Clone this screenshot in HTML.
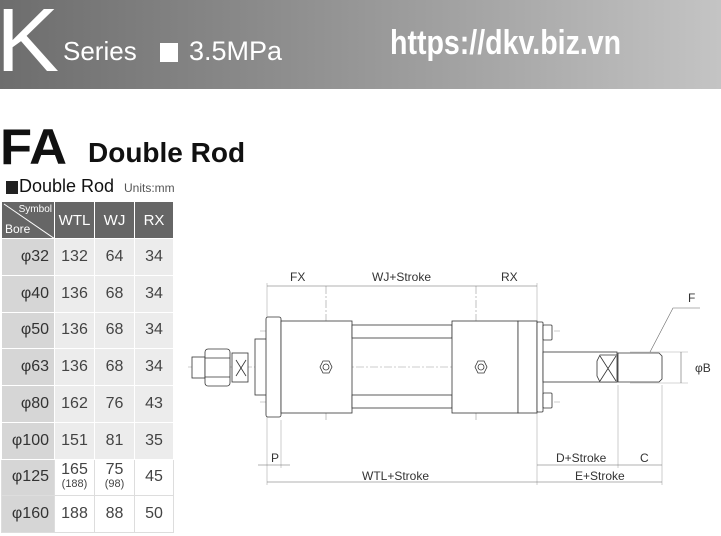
<!DOCTYPE html>
<html><head><meta charset="utf-8"><style>
body{margin:0;width:721px;height:536px;background:#fff;overflow:hidden;position:relative;font-family:"Liberation Sans",sans-serif}
.ban{position:absolute;left:0;top:0;width:721px;height:89px;background:linear-gradient(90deg,#6d6d6d 0%,#8a8a8a 35%,#a8a8a8 70%,#c4c4c4 100%)}
.t{position:absolute;white-space:nowrap}
table{position:absolute;left:1px;top:201px;border-collapse:collapse;font-size:16px;color:#444;table-layout:fixed;width:172px}
td{border:1px solid #fff;text-align:center;height:36.75px;padding:0;background:#ececec;box-sizing:border-box}
td.b{background:#d6d6d6;text-align:right;padding-right:5px;color:#333}
tr.w td{background:#fff;border-color:#ddd}
tr.w td.b{background:#d6d6d6}
th{background:#666;color:#fff;font-weight:normal;font-size:15px;height:37px;border:1px solid #fff;padding:0;box-sizing:border-box}
</style></head><body>
<div class="ban"></div>
<div class="t" style="left:-4px;top:-10px;font-size:90px;color:#fff;transform:scaleX(1.05);transform-origin:left">K</div>
<div class="t" style="left:63px;top:36px;font-size:26px;color:#fff">Series</div>
<div class="t" style="left:160px;top:43px;width:18px;height:19px;background:#fff"></div>
<div class="t" style="left:189px;top:36px;font-size:27px;color:#fff">3.5MPa</div>
<div class="t" style="left:390px;top:24px;font-size:34px;font-weight:bold;color:#fff;transform:scaleX(0.84);transform-origin:left">https://dkv.biz.vn</div>
<div class="t" style="left:0;top:118px;font-size:50px;font-weight:bold;color:#111;transform:scaleX(1.05);transform-origin:left">FA</div>
<div class="t" style="left:88px;top:137px;font-size:28px;font-weight:bold;color:#111">Double Rod</div>
<div class="t" style="left:6px;top:181px;width:12px;height:13px;background:#222"></div>
<div class="t" style="left:19px;top:176px;font-size:18px;color:#111">Double Rod</div>
<div class="t" style="left:124px;top:181px;font-size:12px;color:#555">Units:mm</div>
<table>
<colgroup><col style="width:53px"><col style="width:40px"><col style="width:40px"><col style="width:39px"></colgroup>
<tr><th style="position:relative;font-size:12px"><svg width="53" height="37" style="position:absolute;left:0;top:0"><line x1="2" y1="2" x2="53" y2="37" stroke="#fff"/></svg><span style="position:absolute;right:2px;top:2px;font-size:10px">Symbol</span><span style="position:absolute;left:3px;bottom:2px;font-size:12px">Bore</span></th><th>WTL</th><th>WJ</th><th>RX</th></tr>
<tr><td class="b">φ32</td><td>132</td><td>64</td><td>34</td></tr>
<tr><td class="b">φ40</td><td>136</td><td>68</td><td>34</td></tr>
<tr><td class="b">φ50</td><td>136</td><td>68</td><td>34</td></tr>
<tr><td class="b">φ63</td><td>136</td><td>68</td><td>34</td></tr>
<tr><td class="b">φ80</td><td>162</td><td>76</td><td>43</td></tr>
<tr><td class="b">φ100</td><td>151</td><td>81</td><td>35</td></tr>
<tr class="w"><td class="b">φ125</td><td style="line-height:13px">165<br><span style="font-size:11px">(188)</span></td><td style="line-height:13px">75<br><span style="font-size:11px">(98)</span></td><td>45</td></tr>
<tr class="w"><td class="b">φ160</td><td>188</td><td>88</td><td>50</td></tr>
</table>
<svg width="721" height="536" style="position:absolute;left:0;top:0" font-family="Liberation Sans" font-size="12" fill="none" stroke="#333" stroke-width="0.8">
<g stroke="#999" stroke-width="0.6" stroke-dasharray="8,2,2,2">
<line x1="188" y1="367" x2="640" y2="367"/><line x1="260" y1="331" x2="560" y2="331"/><line x1="260" y1="402" x2="560" y2="402"/>
<line x1="326" y1="286" x2="326" y2="420"/><line x1="476" y1="286" x2="476" y2="420"/>
</g>
<g stroke="#aaa" stroke-width="0.6">
<line x1="267" y1="283" x2="267" y2="485"/><line x1="537" y1="283" x2="537" y2="485"/><line x1="281" y1="420" x2="281" y2="468"/>
<line x1="618" y1="385" x2="618" y2="468"/><line x1="662" y1="385" x2="662" y2="485"/>
<line x1="630" y1="352" x2="688" y2="352"/><line x1="630" y1="383" x2="688" y2="383"/>
</g>
<g fill="#fff">
<rect x="192" y="357" width="13" height="21"/><rect x="205" y="349" width="25" height="37" rx="3"/>
<line x1="205" y1="358" x2="230" y2="358"/><line x1="205" y1="377" x2="230" y2="377"/>
<rect x="232" y="353" width="16" height="29"/><line x1="236" y1="360" x2="246" y2="376"/><line x1="246" y1="360" x2="236" y2="376"/>
<rect x="255" y="339" width="12" height="56"/>
<rect x="266" y="317" width="15" height="100" rx="2"/>
<rect x="281" y="321" width="71" height="92"/>
<rect x="352" y="325" width="100" height="13"/><rect x="352" y="395" width="100" height="13"/>
<rect x="452" y="321" width="66" height="92"/><rect x="518" y="321" width="19" height="92"/>
<rect x="537" y="322" width="6" height="90" rx="1"/>
<rect x="543" y="325" width="9" height="15" rx="1"/><rect x="543" y="393" width="9" height="15" rx="1"/>
<rect x="543" y="352" width="74" height="30"/>
<path d="M600 355 H617 V382 H600 L597 376 V361 Z"/><line x1="600" y1="356" x2="616" y2="381"/><line x1="616" y1="356" x2="600" y2="381"/>
<path d="M618 353 H659 L662 356 V379 L659 382 H618 Z"/>
<path d="M320 367 l3-6 h6 l3 6 l-3 6 h-6z"/><circle cx="326" cy="367" r="3"/>
<path d="M475 367 l3-6 h6 l3 6 l-3 6 h-6z"/><circle cx="481" cy="367" r="3"/>
</g>
<g stroke="#666" stroke-width="0.6">
<line x1="267" y1="286" x2="537" y2="286"/><line x1="267" y1="482" x2="662" y2="482"/>
<line x1="258" y1="465" x2="290" y2="465"/><line x1="537" y1="465" x2="662" y2="465"/>
<line x1="681" y1="352" x2="681" y2="383"/>
<polyline points="650,352 673,308 700,308"/>
</g>
<g fill="#333" stroke="none" font-size="12">
<text x="290" y="281">FX</text><text x="372" y="281">WJ+Stroke</text><text x="501" y="281">RX</text>
<text x="688" y="302">F</text><text x="695" y="372">φB</text>
<text x="271" y="462">P</text><text x="362" y="480">WTL+Stroke</text>
<text x="556" y="462">D+Stroke</text><text x="640" y="462">C</text><text x="575" y="480">E+Stroke</text>
</g>
</svg>
</body></html>
